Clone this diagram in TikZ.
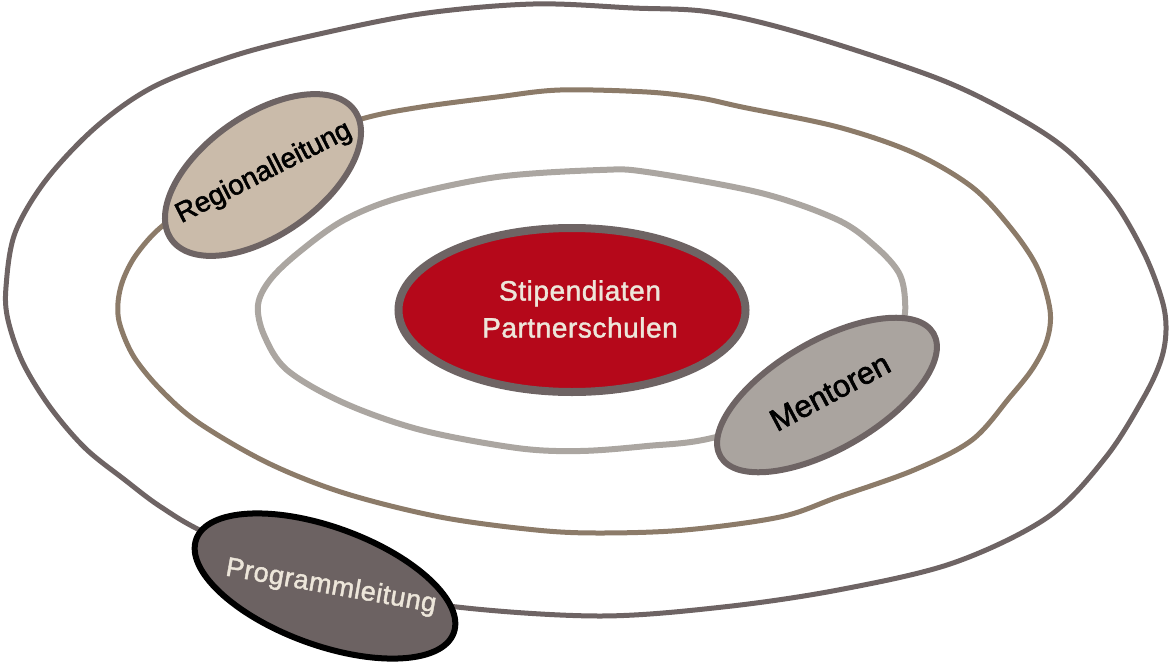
\documentclass[tikz,border=0pt]{standalone}
\usepackage{fontspec}
\setmainfont{Liberation Sans}
\newfontfamily\labelfont[FakeBold=2]{Liberation Sans}
\newfontfamily\lightlabelfont[FakeBold=1.5, LetterSpace=2]{Liberation Sans}
\usetikzlibrary{shapes.geometric}

\definecolor{ringouter}{HTML}{6E6464}
\definecolor{ringmid}{HTML}{8C7B69}
\definecolor{ringinner}{HTML}{ABA6A1}
\definecolor{corered}{HTML}{B5081A}
\definecolor{regfill}{HTML}{CABBAA}
\definecolor{mentfill}{HTML}{AAA49F}
\definecolor{progfill}{HTML}{6C6262}
\definecolor{lighttext}{HTML}{EDE6DA}

\begin{document}
\begin{tikzpicture}[x=1pt,y=-1pt,
  ring/.style={line width=5pt, line join=round, line cap=round},
  blob/.style={ellipse, inner sep=0pt, outer sep=0pt, line width=6pt, draw=ringouter},
  lbl/.style={align=center, inner sep=0pt}
]
\useasboundingbox (0,0) rectangle (1170,667);

% outer ring
\draw[ring, draw=ringouter] plot[smooth cycle, tension=0.55] coordinates {
  (533,4) (633,8) (710,12) (800,33) (934,77) (1010,113) (1067,150) (1113,200)
  (1144,253) (1162,300) (1166,330) (1161,360) (1144,397) (1106,457) (1048,517)
  (953,563) (838,590) (723,607) (600,616) (457,607) (330,585) (210,535)
  (161,507) (125,480) (85,448) (50,407) (23,363) (8,320) (6,287) (15,233)
  (46,180) (96,127) (153,87) (230,57) (306,37) (420,14)};

% middle ring
\draw[ring, draw=ringmid] plot[smooth cycle, tension=0.55] coordinates {
  (365,118) (421,107) (497,97) (560,90) (647,92) (700,98) (742,107) (838,127)
  (914,153) (972,187) (1010,227) (1037,267) (1050,310) (1047,340) (1033,368)
  (1010,397) (972,440) (914,470) (838,497) (780,517) (685,530) (600,533)
  (536,530) (440,517) (344,493) (268,463) (199,423) (161,390) (134,357)
  (120,325) (118,303) (123,280) (136,255) (160,228) (200,200) (300,140)};

% inner ring
\draw[ring, line width=6pt, draw=ringinner] plot[smooth cycle, tension=0.55] coordinates {
  (600,170) (647,172) (761,193) (838,220) (876,247) (899,273) (905,300)
  (902,325) (880,360) (820,405) (712,438) (647,446) (580,451) (517,448)
  (421,430) (344,403) (287,370) (264,335) (258,305) (270,280) (298,253)
  (344,220) (402,197) (497,177)};

% core
\node[blob, line width=8pt, fill=corered, minimum width=347pt, minimum height=164pt]
  (core) at (572,310) {};
\node[lbl, text=lighttext, font=\lightlabelfont\fontsize{28}{37}\selectfont] (coretxt) at (580,309)
  {Stipendiaten\\Partnerschulen};

% Regionalleitung
\node[blob, fill=regfill, minimum width=224pt, minimum height=120pt, rotate=35]
  (reg) at (263,175) {};
\node[lbl, font=\labelfont\fontsize{28}{34}\selectfont, rotate=27] (regtxt) at (264,173) {Regionalleitung};

% Mentoren
\node[blob, fill=mentfill, minimum width=246pt, minimum height=108pt, rotate=30]
  (ment) at (827,395) {};
\node[lbl, font=\labelfont\fontsize{31}{36}\selectfont, rotate=28] (menttxt) at (830,392) {Mentoren};

% Programmleitung
\node[blob, draw=black, fill=progfill, minimum width=274pt, minimum height=118pt, rotate=-20]
  (prog) at (325,586) {};
\node[lbl, text=lighttext, font=\lightlabelfont\fontsize{27}{34}\selectfont, rotate=-10]
  (progtxt) at (331,587) {Programmleitung};
\end{tikzpicture}
\end{document}
